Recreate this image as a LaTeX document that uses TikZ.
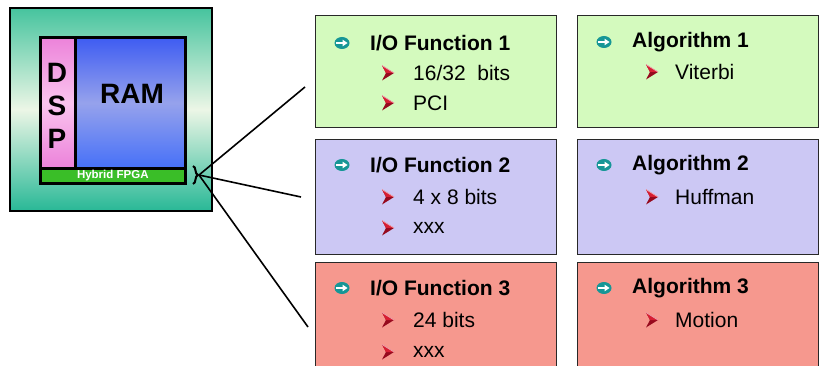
\documentclass[tikz,border=0pt]{standalone}
\usepackage{fontspec}
\setmainfont{Liberation Sans}
\usetikzlibrary{decorations.pathreplacing}
\definecolor{tealtop}{RGB}{70,196,158}
\definecolor{tealmid}{RGB}{236,246,230}
\definecolor{tealbot}{RGB}{40,184,150}
\definecolor{pinktop}{RGB}{236,130,218}
\definecolor{pinkmid}{RGB}{250,196,238}
\definecolor{bluetop}{RGB}{62,92,242}
\definecolor{bluemid}{RGB}{150,162,236}
\definecolor{bluebot}{RGB}{70,112,248}
\definecolor{fpgagreen}{RGB}{58,190,40}
\definecolor{boxgreen}{RGB}{212,250,190}
\definecolor{boxblue}{RGB}{204,200,244}
\definecolor{boxred}{RGB}{246,152,142}
\definecolor{bulletteal}{RGB}{22,150,150}
\definecolor{arrowdark}{RGB}{150,10,30}
\definecolor{arrowmid}{RGB}{215,30,50}
\definecolor{arrowlight}{RGB}{240,170,180}
\definecolor{boxedge}{RGB}{40,40,40}
\begin{document}
\begin{tikzpicture}[x=1pt,y=-1pt,
  panel/.style={draw=boxedge, line width=1.4pt, inner sep=0pt, minimum width=241pt},
  title/.style={anchor=west, inner sep=0pt, font=\fontsize{21}{24}\selectfont\bfseries},
  item/.style={anchor=west, inner sep=0pt, font=\fontsize{21}{24}\selectfont},
  conn/.style={line width=1.6pt, black},
  mainbullet/.pic={
    \fill[bulletteal] (0,0) ellipse [x radius=7.5pt, y radius=6pt];
    \draw[white, line width=1.8pt] (-6,0) -- (2,0);
    \fill[white] (0.5,-3.4) -- (5.5,0) -- (0.5,3.4) -- cycle;
  },
  subbullet/.pic={
    \fill[arrowdark] (-6,-7.5) -- (6,0) -- (-6,7.5) -- (-2,0) -- cycle;
    \fill[arrowmid] (-6,-7.5) -- (6,0) -- (-2,0) -- cycle;
    \draw[arrowlight, line width=0.7pt] (-6,-7.5) -- (6,0);
  }
]
\useasboundingbox (0,0) rectangle (822,366);
\clip (0,0) rectangle (822,366);
\fill[white] (0,0) rectangle (822,366);

% FPGA chip
\node[draw, line width=2.6pt, inner sep=0pt, minimum width=202pt, minimum height=203pt,
      top color=tealtop, bottom color=tealbot, middle color=tealmid] (chip) at (111,109.5) {};
\node[draw, line width=2.6pt, inner sep=0pt, minimum width=35pt, minimum height=131pt,
      top color=pinktop, bottom color=pinktop, middle color=pinkmid, anchor=north west] (dsp) at (39,36) {};
\node[draw, line width=2.6pt, inner sep=0pt, minimum width=110pt, minimum height=131pt,
      top color=bluetop, bottom color=bluebot, middle color=bluemid, anchor=north west] (ram) at (74,36) {};
\node[draw, line width=2.6pt, inner sep=0pt, minimum width=145pt, minimum height=15pt,
      fill=fpgagreen, anchor=north west, text=white,
      font=\fontsize{11.5}{12}\selectfont\bfseries] (hyb) at (39,167) {Hybrid FPGA};
\node[font=\fontsize{28}{33}\selectfont\bfseries, align=center, inner sep=0pt] (dsptxt) at (57,106) {D\\S\\P};
\node[font=\fontsize{28}{30}\selectfont\bfseries, inner sep=0pt] (ramtxt) at (132,94) {RAM};

% brace and connectors
\draw[line width=2pt, decorate, decoration={brace, amplitude=5pt}] (193,166) -- (193,184);
\coordinate (tip) at (199,175);
\coordinate (e1) at (305,87);
\coordinate (e2) at (301,197);
\coordinate (e3) at (308,327);
\draw[conn] (tip) -- (e1);
\draw[conn] (tip) -- (e2);
\draw[conn] (tip) -- (e3);

% panels
\node[panel, fill=boxgreen, minimum height=112pt, anchor=north west] (io1) at (315,15) {};
\node[panel, fill=boxblue, minimum height=115pt, anchor=north west] (io2) at (315,139) {};
\node[panel, fill=boxred, minimum height=130pt, anchor=north west] (io3) at (315,262) {};
\node[panel, fill=boxgreen, minimum height=112pt, anchor=north west] (al1) at (577,15) {};
\node[panel, fill=boxblue, minimum height=115pt, anchor=north west] (al2) at (577,139) {};
\node[panel, fill=boxred, minimum height=130pt, anchor=north west] (al3) at (577,262) {};

% I/O Function 1
\pic at (342,43) {mainbullet};
\node[title] (t11) at (370,43) {I/O Function 1};
\pic at (388,73) {subbullet};
\node[item] (s111) at (413,73) {16/32\ \ bits};
\pic at (388,103) {subbullet};
\node[item] (s112) at (413,103) {PCI};

% I/O Function 2
\pic at (342,165) {mainbullet};
\node[title] (t12) at (370,165) {I/O Function 2};
\pic at (388,197) {subbullet};
\node[item] (s121) at (413,197) {4 x 8 bits};
\pic at (388,228) {subbullet};
\node[item] (s122) at (413,228) {xxx};

% I/O Function 3
\pic at (342,288) {mainbullet};
\node[title] (t13) at (370,288) {I/O Function 3};
\pic at (388,320) {subbullet};
\node[item] (s131) at (413,320) {24 bits};
\pic at (388,352) {subbullet};
\node[item] (s132) at (413,352) {xxx};

% Algorithms
\pic at (604,42) {mainbullet};
\node[title] (t21) at (632,42) {Algorithm 1};
\pic at (652,72) {subbullet};
\node[item] (s211) at (675,72) {Viterbi};

\pic at (604,165) {mainbullet};
\node[title] (t22) at (632,165) {Algorithm 2};
\pic at (652,197) {subbullet};
\node[item] (s221) at (675,197) {Huffman};

\pic at (604,288) {mainbullet};
\node[title] (t23) at (632,288) {Algorithm 3};
\pic at (652,320) {subbullet};
\node[item] (s231) at (675,320) {Motion};
\end{tikzpicture}
\end{document}
